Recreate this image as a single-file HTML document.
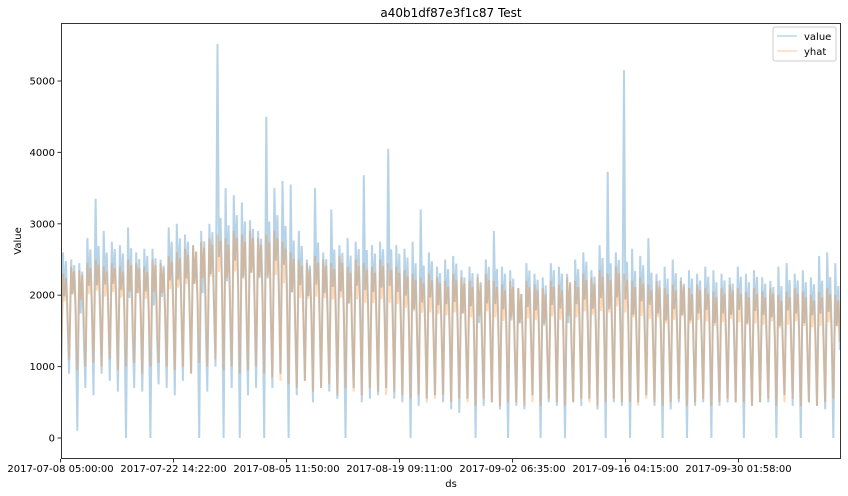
<!DOCTYPE html>
<html><head><meta charset="utf-8"><style>
body{margin:0;background:#fff;}
svg{display:block;font-family:"DejaVu Sans","Liberation Sans",sans-serif;}
</style></head><body>
<svg id="chart" width="848" height="496">
<text x="451" y="17" text-anchor="middle" font-size="12">a40b1df87e3f1c87 Test</text>
<text transform="translate(21,241) rotate(-90)" text-anchor="middle" font-size="10">Value</text>
<text x="451" y="487" text-anchor="middle" font-size="10">ds</text>
<g id="series"></g>
<g id="axes"></g>
<g>
<rect x="773" y="27" width="63" height="34" rx="2" fill="#fff" fill-opacity="0.8" stroke="#ccc"/>
<line x1="777" y1="36" x2="797" y2="36" stroke="#1f77b4" stroke-opacity="0.3" stroke-width="1.5"/>
<text x="804" y="40" font-size="10">value</text>
<line x1="777" y1="51" x2="797" y2="51" stroke="#ff7f0e" stroke-opacity="0.3" stroke-width="1.5"/>
<text x="804" y="55" font-size="10">yhat</text>
</g>
</svg>
<script>
const xTickLabels=["2017-07-08 05:00:00","2017-07-22 14:22:00","2017-08-05 11:50:00","2017-08-19 09:11:00","2017-09-02 06:35:00","2017-09-16 04:15:00","2017-09-30 01:58:00"];
const yTicks=[0,1000,2000,3000,4000,5000];
const valueHigh=[2600,2500,2450,2800,3350,2900,2750,2700,2950,2600,2650,2650,2500,2950,
3000,2850,2700,2900,3000,5520,3500,3400,3300,3050,2900,4500,3500,3600,
3550,2900,2500,3500,2600,3200,2700,2800,2750,3680,2700,2750,4050,2700,
2650,2750,3200,2600,2400,2500,2550,2350,2400,2300,2500,2900,2400,2350,
2100,2450,2300,2250,2450,2400,2300,2500,2600,2350,2700,3730,2600,5150,
2650,2550,2800,2300,2400,2500,2250,2350,2300,2400,2350,2300,2250,2400,
2300,2350,2250,2200,2400,2450,2300,2350,2250,2550,2600,2450];
const valueLow=[600,900,100,700,600,900,800,650,0,700,650,0,750,700,
600,800,900,0,650,1000,0,700,0,600,700,0,700,900,
0,600,800,500,700,650,550,0,700,500,550,600,700,550,
500,0,450,550,600,500,400,350,550,0,450,500,400,0,
450,400,600,0,500,450,0,500,450,550,400,0,500,450,
0,500,600,450,0,400,500,0,450,500,0,450,500,500,
0,450,500,500,0,600,450,0,500,450,400,0];
const yhatHigh=[2300,2400,2350,2450,2500,2400,2450,2400,2500,2450,2400,2500,2450,2550,
2600,2650,2700,2750,2800,2850,2800,2900,2850,2900,2800,2850,2900,2750,
2600,2500,2450,2550,2500,2450,2550,2400,2500,2450,2400,2500,2450,2400,
2350,2300,2250,2300,2250,2200,2300,2250,2200,2250,2300,2200,2150,2200,
2100,2200,2150,2100,2200,2150,2250,2200,2300,2250,2350,2300,2400,2300,
2200,2250,2150,2200,2100,2150,2200,2100,2150,2100,2050,2100,2150,2100,
2050,2100,2050,2100,2000,2050,2100,2050,2000,2050,2100,2000];
const yhatLow=[1000,1100,950,1000,1050,1000,1100,950,1000,1050,900,1000,1050,1000,
950,1000,900,1050,1000,1100,950,1000,900,950,1000,900,850,800,
750,700,800,650,700,750,600,700,650,600,700,650,600,650,
600,550,600,500,550,600,500,550,500,450,550,500,450,500,
500,450,500,450,550,500,450,500,550,500,450,500,550,500,
500,450,550,500,450,500,550,450,500,550,450,500,550,500,
500,450,500,550,450,500,550,450,500,450,500,550];
const L=61,R=841,T=23,B=459;
const tickPx=113, daysPerTick=13.9;
function xScale(d){return L+d/daysPerTick*tickPx;}
function yScale(v){return 438-v*(357/5000);}
const NS="http://www.w3.org/2000/svg";
const svg=document.getElementById('chart');
const series=document.getElementById('series');
const axes=document.getElementById('axes');
function buildPath(hi,lo,ref,k){
  let pts=[];
  for(let i=0;i<hi.length;i++){
    const h=hi[i], l=lo[i];
    const base=Math.min(h,ref[i]*k);
    pts.push([xScale(i),yScale(l)]);
    pts.push([xScale(i+0.25),yScale(h)]);
    pts.push([xScale(i+0.42),yScale(l+0.7*(base-l))]);
    pts.push([xScale(i+0.62),yScale(l+0.95*(base-l))]);
    pts.push([xScale(i+0.8),yScale(l+0.55*(base-l))]);
  }
  return "M"+pts.map(p=>p[0].toFixed(1)+","+p[1].toFixed(1)).join("L");
}
const clip=document.createElementNS(NS,'clipPath');clip.setAttribute('id','pc');
const cr=document.createElementNS(NS,'rect');cr.setAttribute('x',L);cr.setAttribute('y',T);cr.setAttribute('width',R-L);cr.setAttribute('height',B-T);
clip.appendChild(cr);svg.appendChild(clip);
series.setAttribute('clip-path','url(#pc)');
const pv=document.createElementNS(NS,'path');


pv.setAttribute('d',buildPath(valueHigh,valueLow,yhatHigh,1.12));
pv.setAttribute('fill','none');pv.setAttribute('stroke','#1f77b4');pv.setAttribute('stroke-opacity','0.32');pv.setAttribute('stroke-width','2');
series.appendChild(pv);
const py=document.createElementNS(NS,'path');


py.setAttribute('d',buildPath(yhatHigh,yhatLow,yhatHigh,1.05));
py.setAttribute('fill','none');py.setAttribute('stroke','#ff7f0e');py.setAttribute('stroke-opacity','0.3');py.setAttribute('stroke-width','2');
series.appendChild(py);
const frame=document.createElementNS(NS,'rect');


frame.setAttribute('x',L+0.5);frame.setAttribute('y',T+0.5);frame.setAttribute('width',R-L-1);frame.setAttribute('height',B-T-1);
frame.setAttribute('fill','none');frame.setAttribute('stroke','#333');frame.setAttribute('stroke-width','1');
axes.appendChild(frame);
yTicks.forEach(v=>{
  const y=yScale(v);
  const t=document.createElementNS(NS,'line');
  
  
  t.setAttribute('x1',L-3.5);t.setAttribute('x2',L);t.setAttribute('y1',y);t.setAttribute('y2',y);t.setAttribute('stroke','#333');
  axes.appendChild(t);
  const tx=document.createElementNS(NS,'text');
  
  
  tx.setAttribute('x',L-6);tx.setAttribute('y',y+3.5);tx.setAttribute('text-anchor','end');tx.setAttribute('font-size','10');
  tx.textContent=v;axes.appendChild(tx);
});
xTickLabels.forEach((lab,i)=>{
  const x=L+i*tickPx-0.5;
  const t=document.createElementNS(NS,'line');
  
  
  t.setAttribute('x1',x);t.setAttribute('x2',x);t.setAttribute('y1',B);t.setAttribute('y2',B+3.5);t.setAttribute('stroke','#333');
  axes.appendChild(t);
  const tx=document.createElementNS(NS,'text');
  
  
  tx.setAttribute('x',x);tx.setAttribute('y',B+13);tx.setAttribute('text-anchor','middle');tx.setAttribute('font-size','10');
  tx.textContent=lab;axes.appendChild(tx);
});
</script>
</body></html>
